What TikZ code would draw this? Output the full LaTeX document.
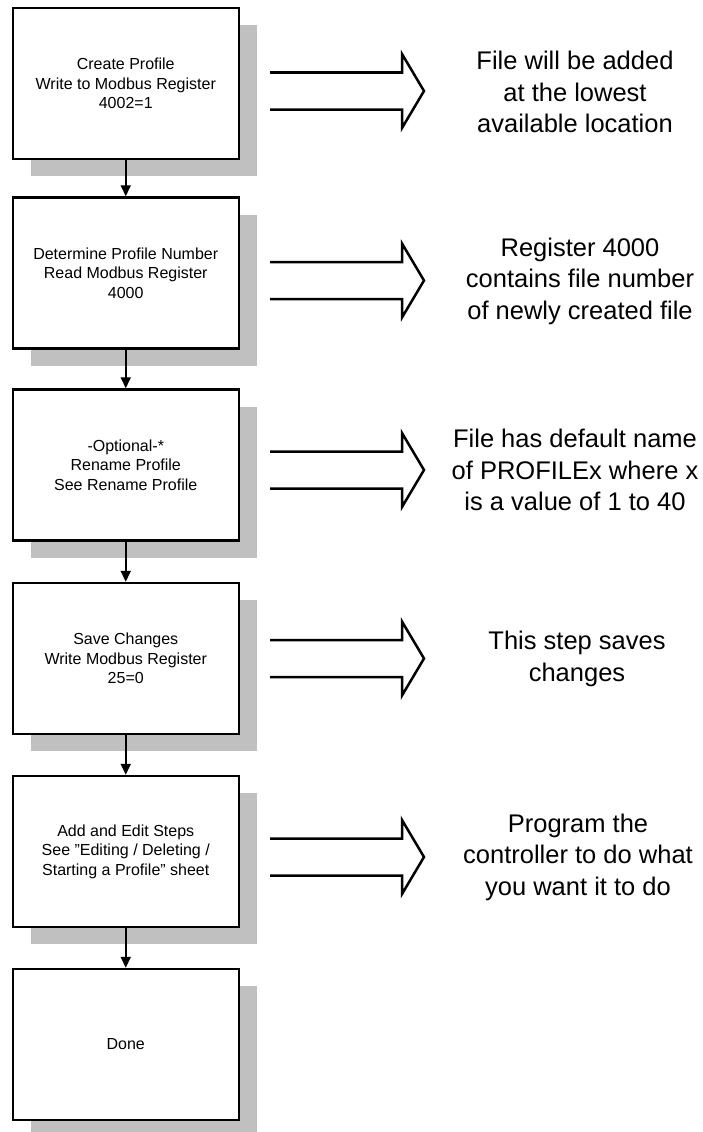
\documentclass[tikz,border=0pt]{standalone}
\usepackage{fontspec}
\setmainfont{Liberation Sans}
\usetikzlibrary{arrows.meta,shadows}
\definecolor{shadowgray}{RGB}{192,192,192}

\begin{document}
\begin{tikzpicture}[x=1pt, y=-1pt,
  stepbox/.style={draw, line width=2.5pt, fill=white,
    minimum width=226pt, minimum height=151pt,
    align=center, font=\fontsize{16}{19.5}\selectfont,
    general shadow={fill=shadowgray, shadow xshift=18pt, shadow yshift=-17pt}},
  flow/.style={line width=2pt, -{Triangle[length=11pt, width=10pt]}},
  note/.style={align=center, font=\fontsize{25.5}{31.5}\selectfont},
  fatarrow/.style={line width=2.5pt}]
  \useasboundingbox (0,0) rectangle (703,1132);

  % left column: the steps
  \node[stepbox] (create) at (125.75, 83.3) {Create Profile\\Write to Modbus Register\\4002=1};
  \node[stepbox] (number) at (125.75, 273)  {Determine Profile Number\\Read Modbus Register\\4000};
  \node[stepbox] (rename) at (125.75, 465)  {-Optional-*\\Rename Profile\\See Rename Profile};
  \node[stepbox] (save)   at (125.75, 658.5){Save Changes\\Write Modbus Register\\25=0};
  \node[stepbox] (edit)   at (125.75, 851.5){Add and Edit Steps\\See "Editing / Deleting /\\Starting a Profile" sheet};
  \node[stepbox] (done)   at (125.75, 1044.5){Done};

  \draw[flow] (create) -- (number);
  \draw[flow] (number) -- (rename);
  \draw[flow] (rename) -- (save);
  \draw[flow] (save)   -- (edit);
  \draw[flow] (edit)   -- (done);

  % right column: what each step does
  \node[note] (createnote) at (575, 92)    {File will be added\\at the lowest\\available location};
  \node[note] (numbernote) at (580, 281)   {Register 4000\\contains file number\\of newly created file};
  \node[note] (renamenote) at (575, 470)   {File has default name\\of PROFILEx where x\\is a value of 1 to 40};
  \node[note] (savenote)   at (577, 659)   {This step saves\\changes};
  \node[note] (editnote)   at (578, 857)   {Program the\\controller to do what\\you want it to do};

  % open block arrows between the columns
  \foreach \y in {91, 280.5, 470, 658.5, 857} {
    \draw[fatarrow] (270, {\y-18.5}) -- ++(132,0) -- ++(0,-18.5) -- ++(22,37)
      -- ++(-22,37) -- ++(0,-18.5) -- ++(-132,0);
  }
\end{tikzpicture}
\end{document}
